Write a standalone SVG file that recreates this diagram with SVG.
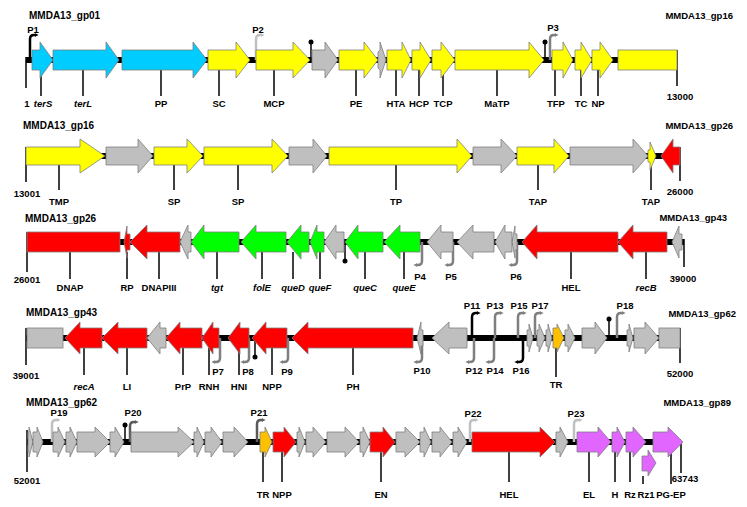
<svg xmlns="http://www.w3.org/2000/svg" width="747" height="507" viewBox="0 0 747 507">
<defs>
<style>
.bb{stroke:#000;stroke-width:6;fill:none}
.gene{stroke:#7f7f7f;stroke-width:0.8}
.cy{fill:#00CCFF}.ye{fill:#FFFF00}.gr{fill:#BFBFBF}.rd{fill:#FF0000}.gn{fill:#00FF00}.vi{fill:#E066FF}.or{fill:#FFC000}
.tk{stroke:#000;stroke-width:1.5;fill:none}
.t{font-family:"Liberation Sans",Arial,sans-serif;font-weight:bold;font-size:9.5px;fill:#000;text-anchor:middle}
.h{font-size:10px;text-anchor:start}
.e{text-anchor:end}
.i{font-style:italic}
.pk{stroke:#000;stroke-width:2.5;fill:none;marker-end:url(#mk)}
.pl{stroke:#C0C0C0;stroke-width:2.5;fill:none;marker-end:url(#ml)}
.pd{stroke:#7F7F7F;stroke-width:2.5;fill:none;marker-end:url(#md)}
.pe{stroke:#5A5A5A;stroke-width:2.5;fill:none;marker-end:url(#me)}
.term{stroke:#000;stroke-width:1.5}
</style>
<marker id="mk" viewBox="0 0 6 6" refX="2" refY="3" markerWidth="4" markerHeight="4" orient="auto" markerUnits="userSpaceOnUse"><path d="M0,0L6,3L0,6z" fill="#000"/></marker>
<marker id="ml" viewBox="0 0 6 6" refX="2" refY="3" markerWidth="4" markerHeight="4" orient="auto" markerUnits="userSpaceOnUse"><path d="M0,0L6,3L0,6z" fill="#C0C0C0"/></marker>
<marker id="md" viewBox="0 0 6 6" refX="2" refY="3" markerWidth="4" markerHeight="4" orient="auto" markerUnits="userSpaceOnUse"><path d="M0,0L6,3L0,6z" fill="#7F7F7F"/></marker>
<marker id="me" viewBox="0 0 6 6" refX="2" refY="3" markerWidth="4" markerHeight="4" orient="auto" markerUnits="userSpaceOnUse"><path d="M0,0L6,3L0,6z" fill="#5A5A5A"/></marker>
</defs>
<rect width="747" height="507" fill="#fff"/>

<g id="backbone">
<line class="bb" x1="26" y1="60" x2="677" y2="60"/>
<line class="bb" x1="26" y1="156" x2="680" y2="156"/>
<line class="bb" x1="27" y1="242" x2="684" y2="242"/>
<line class="bb" x1="26" y1="338" x2="680" y2="338"/>
<line class="bb" x1="27" y1="442" x2="681" y2="442"/>
</g>

<g id="promoters">
<path id="P1" class="pk" d="M30 60V39Q30 35 34 35H36"/>
<path id="P2" class="pl" d="M256 60V39Q256 35 260 35H262"/>
<path id="P3" class="pd" d="M550 60V39Q550 35 554 35H556"/>
<path id="P4" class="pd" d="M422 242V261Q422 265 418 265H416"/>
<path id="P5" class="pd" d="M453 242V261Q453 265 449 265H447"/>
<path id="P6" class="pd" d="M517 242V261Q517 265 513 265H511"/>
<path id="P7" class="pd" d="M220 338V358Q220 362 216 362H214"/>
<path id="P8" class="pd" d="M249 338V358Q249 362 245 362H243"/>
<path id="P9" class="pd" d="M288 338V358Q288 362 284 362H282"/>
<path id="P10" class="pd" d="M422 338V358Q422 362 418 362H416"/>
<path id="P11" class="pk" d="M472 338V317Q472 313 476 313H478"/>
<path id="P12" class="pd" d="M474 338V358Q474 362 470 362H468"/>
<path id="P13" class="pd" d="M495 338V317Q495 313 499 313H501"/>
<path id="P14" class="pd" d="M494 338V358Q494 362 490 362H488"/>
<path id="P15" class="pd" d="M518 338V317Q518 313 522 313H524"/>
<path id="P16" class="pk" d="M523 338V358Q523 362 519 362H517"/>
<path id="P17" class="pd" d="M535 338V317Q535 313 539 313H541"/>
<path id="P18" class="pd" d="M617 338V317Q617 313 621 313H623"/>
<path id="P19" class="pl" d="M52 442V424Q52 420 56 420H58"/>
<path id="P20" class="pe" d="M130 442V426Q130 422 134 422H136"/>
<path id="P21" class="pe" d="M257 442V424Q257 420 261 420H263"/>
<path id="P22" class="pl" d="M470 442V424Q470 420 474 420H476"/>
<path id="P23" class="pl" d="M574 442V424Q574 420 578 420H580"/>
</g>

<g id="terminators">
<line class="term" x1="311" y1="60" x2="311" y2="43"/><circle cx="311" cy="42" r="2.5"/>
<line class="term" x1="545" y1="60" x2="545" y2="43"/><circle cx="545" cy="42" r="2.5"/>
<line class="term" x1="345" y1="242" x2="345" y2="260"/><circle cx="345" cy="261" r="2.5"/>
<line class="term" x1="255" y1="338" x2="255" y2="356"/><circle cx="255" cy="357" r="2.5"/>
<line class="term" x1="609" y1="338" x2="609" y2="320"/><circle cx="609" cy="319" r="2.5"/>
<line class="term" x1="125" y1="442" x2="125" y2="426"/><circle cx="125" cy="425" r="2.5"/>
</g>

<g id="connectors">
<!-- row 1 -->
<line class="tk" x1="26" y1="57" x2="26" y2="88"/>
<line class="tk" x1="677" y1="50" x2="677" y2="86"/>
<line class="tk" x1="41" y1="70" x2="41" y2="96"/>
<line class="tk" x1="83" y1="70" x2="83" y2="96"/>
<line class="tk" x1="161" y1="70" x2="161" y2="96"/>
<line class="tk" x1="219" y1="70" x2="219" y2="96"/>
<line class="tk" x1="274" y1="70" x2="274" y2="96"/>
<line class="tk" x1="356" y1="70" x2="356" y2="96"/>
<line class="tk" x1="396" y1="70" x2="396" y2="96"/>
<line class="tk" x1="419" y1="70" x2="419" y2="96"/>
<line class="tk" x1="443" y1="70" x2="443" y2="96"/>
<line class="tk" x1="497" y1="70" x2="497" y2="96"/>
<line class="tk" x1="555" y1="70" x2="555" y2="96"/>
<line class="tk" x1="581" y1="70" x2="581" y2="96"/>
<line class="tk" x1="598" y1="70" x2="598" y2="96"/>
<!-- row 2 -->
<line class="tk" x1="26" y1="147" x2="26" y2="182"/>
<line class="tk" x1="680" y1="147" x2="680" y2="181"/>
<line class="tk" x1="59" y1="165" x2="59" y2="190"/>
<line class="tk" x1="174" y1="165" x2="174" y2="190"/>
<line class="tk" x1="238" y1="165" x2="238" y2="190"/>
<line class="tk" x1="396" y1="165" x2="396" y2="190"/>
<line class="tk" x1="538" y1="165" x2="538" y2="190"/>
<line class="tk" x1="651" y1="165" x2="651" y2="190"/>
<!-- row 3 -->
<line class="tk" x1="27" y1="232" x2="27" y2="272"/>
<line class="tk" x1="684" y1="239" x2="684" y2="267"/>
<line class="tk" x1="70" y1="252" x2="70" y2="279"/>
<line class="tk" x1="127" y1="252" x2="127" y2="279"/>
<line class="tk" x1="159" y1="252" x2="159" y2="279"/>
<line class="tk" x1="217" y1="252" x2="217" y2="279"/>
<line class="tk" x1="262" y1="252" x2="262" y2="279"/>
<line class="tk" x1="293" y1="252" x2="293" y2="279"/>
<line class="tk" x1="320" y1="252" x2="320" y2="279"/>
<line class="tk" x1="365" y1="252" x2="365" y2="279"/>
<line class="tk" x1="404" y1="252" x2="404" y2="279"/>
<line class="tk" x1="571" y1="252" x2="571" y2="279"/>
<line class="tk" x1="646" y1="252" x2="646" y2="279"/>
<!-- row 4 -->
<line class="tk" x1="26" y1="328" x2="26" y2="365"/>
<line class="tk" x1="680" y1="328" x2="680" y2="363"/>
<line class="tk" x1="84" y1="348" x2="84" y2="375"/>
<line class="tk" x1="127" y1="348" x2="127" y2="375"/>
<line class="tk" x1="183" y1="348" x2="183" y2="375"/>
<line class="tk" x1="209" y1="348" x2="209" y2="375"/>
<line class="tk" x1="239" y1="348" x2="239" y2="375"/>
<line class="tk" x1="272" y1="348" x2="272" y2="375"/>
<line class="tk" x1="353" y1="348" x2="353" y2="375"/>
<line class="tk" x1="556" y1="348" x2="556" y2="377"/>
<!-- row 5 -->
<line class="tk" x1="27" y1="430" x2="27" y2="472"/>
<line class="tk" x1="681" y1="442" x2="681" y2="473"/>
<line class="tk" x1="263" y1="452" x2="263" y2="482"/>
<line class="tk" x1="282" y1="452" x2="282" y2="482"/>
<line class="tk" x1="381" y1="452" x2="381" y2="482"/>
<line class="tk" x1="509" y1="452" x2="509" y2="482"/>
<line class="tk" x1="589" y1="452" x2="589" y2="482"/>
<line class="tk" x1="615" y1="452" x2="615" y2="482"/>
<line class="tk" x1="630" y1="452" x2="630" y2="482"/>
<line class="tk" x1="643" y1="476" x2="643" y2="484"/>
<line class="tk" x1="671" y1="452" x2="671" y2="484"/>
</g>

<!-- Row 1 genes -->
<g id="row1" class="gene">
<g id="terS"><polygon class="cy" points="32,50 40,50 40,42 53,60 40,78 40,70 32,70"/></g>
<g id="terL"><polygon class="cy" points="53,50 106,50 106,42 119,60 106,78 106,70 53,70"/></g>
<g id="PP"><polygon class="cy" points="122,50 193,50 193,42 207,60 193,78 193,70 122,70"/></g>
<g id="SC"><polygon class="ye" points="208,50 236,50 236,42 250,60 236,78 236,70 208,70"/></g>
<g id="MCP"><polygon class="ye" points="256,50 293,50 293,42 310,60 293,78 293,70 256,70"/></g>
<g id="r1g1"><polygon class="gr" points="312,50 325,50 325,42 338,60 325,78 325,70 312,70"/></g>
<g id="PE"><polygon class="ye" points="339,50 364,50 364,42 378,60 364,78 364,70 339,70"/></g>
<g id="r1g2"><polygon class="gr" points="378,52 380,50 380,42 386,60 380,78 380,70 378,68"/></g>
<g id="HTA"><polygon class="ye" points="387,50 402,50 402,42 411,60 402,78 402,70 387,70"/></g>
<g id="HCP"><polygon class="ye" points="412,50 420,50 420,42 431,60 420,78 420,70 412,70"/></g>
<g id="TCP"><polygon class="ye" points="432,50 441,50 441,42 455,60 441,78 441,70 432,70"/></g>
<g id="MaTP"><polygon class="ye" points="455,50 529,50 529,42 544,60 529,78 529,70 455,70"/></g>
<g id="TFP"><polygon class="ye" points="552,50 563,50 563,42 573,60 563,78 563,70 552,70"/></g>
<g id="TC"><polygon class="ye" points="575,50 581,50 581,42 592,60 581,78 581,70 575,70"/></g>
<g id="NP"><polygon class="ye" points="592,50 600,50 600,42 613,60 600,78 600,70 592,70"/></g>
<g id="gp16a"><rect class="ye" x="618" y="50" width="59" height="20"/></g>
</g>

<!-- Row 2 genes -->
<g id="row2" class="gene">
<g id="TMP"><polygon class="ye" points="26,147 80,147 80,139 105,156 80,173 80,165 26,165"/></g>
<g id="r2g1"><polygon class="gr" points="106,147 138,147 138,139 153,156 138,173 138,165 106,165"/></g>
<g id="SP1"><polygon class="ye" points="154,147 187,147 187,139 203,156 187,173 187,165 154,165"/></g>
<g id="SP2"><polygon class="ye" points="204,147 272,147 272,139 288,156 272,173 272,165 204,165"/></g>
<g id="r2g2"><polygon class="gr" points="289,147 313,147 313,139 327,156 313,173 313,165 289,165"/></g>
<g id="TP"><polygon class="ye" points="329,147 457,147 457,139 472,156 457,173 457,165 329,165"/></g>
<g id="r2g3"><polygon class="gr" points="473,147 501,147 501,139 517,156 501,173 501,165 473,165"/></g>
<g id="TAP1"><polygon class="ye" points="517,147 554,147 554,139 569,156 554,173 554,165 517,165"/></g>
<g id="r2g4"><polygon class="gr" points="570,147 633,147 633,139 648,156 633,173 633,165 570,165"/></g>
<g id="TAP2"><polygon class="ye" points="648,150 650,150 650,142 656,156 650,170 650,162 648,162"/></g>
<g id="gp26"><polygon class="rd" points="680,147 673,147 673,139 661,156 673,173 673,165 680,165"/></g>
</g>

<!-- Row 3 genes -->
<g id="row3" class="gene">
<g id="DNAP"><rect class="rd" x="27" y="232" width="93" height="20"/></g>
<g id="RP"><polygon class="rd" points="130,234 127,234 127,226 124,242 127,258 127,250 130,250"/></g>
<g id="DNAPIII"><polygon class="rd" points="180,232 147,232 147,225 130,242 147,259 147,252 180,252"/></g>
<g id="r3g1"><polygon class="gr" points="191,232 188,232 188,225 180,242 188,259 188,252 191,252"/></g>
<g id="tgt"><polygon class="gn" points="239,232 204,232 204,225 191,242 204,259 204,252 239,252"/></g>
<g id="folE"><polygon class="gn" points="286,232 256,232 256,225 241,242 256,259 256,252 286,252"/></g>
<g id="queD"><polygon class="gn" points="309,232 301,232 301,225 287,242 301,259 301,252 309,252"/></g>
<g id="queF"><polygon class="gn" points="324,232 317,232 317,225 310,242 317,259 317,252 324,252"/></g>
<g id="r3g2"><polygon class="gr" points="344,232 336,232 336,225 324,242 336,259 336,252 344,252"/></g>
<g id="queC"><polygon class="gn" points="383,232 358,232 358,225 345,242 358,259 358,252 383,252"/></g>
<g id="queE"><polygon class="gn" points="420,232 400,232 400,225 384,242 400,259 400,252 420,252"/></g>
<g id="r3g3"><polygon class="gr" points="453,232 441,232 441,225 427,242 441,259 441,252 453,252"/></g>
<g id="r3g4"><polygon class="gr" points="494,232 473,232 473,225 457,242 473,259 473,252 494,252"/></g>
<g id="r3g5"><polygon class="gr" points="512,232 505,232 505,225 495,242 505,259 505,252 512,252"/></g>
<g id="r3g6"><polygon class="gr" points="517,234 515,234 515,226 512,242 515,258 515,250 517,250"/></g>
<g id="HEL1"><polygon class="rd" points="618,232 537,232 537,225 522,242 537,259 537,252 618,252"/></g>
<g id="recB"><polygon class="rd" points="667,232 633,232 633,225 618,242 633,259 633,252 667,252"/></g>
<g id="gp43a"><polygon class="gr" points="682,234 679,234 679,226 672,242 679,258 679,250 682,250"/></g>
</g>

<!-- Row 4 genes -->
<g id="row4" class="gene">
<g id="gp43b"><rect class="gr" x="27" y="328" width="36" height="20"/></g>
<g id="recA"><polygon class="rd" points="102,328 80,328 80,322 65,338 80,354 80,348 102,348"/></g>
<g id="LI"><polygon class="rd" points="147,328 118,328 118,322 102,338 118,354 118,348 147,348"/></g>
<g id="r4g1"><polygon class="gr" points="166,328 160,328 160,322 147,338 160,354 160,348 166,348"/></g>
<g id="PrP"><polygon class="rd" points="202,328 180,328 180,322 166,338 180,354 180,348 202,348"/></g>
<g id="RNH"><polygon class="rd" points="219,328 213,328 213,322 202,338 213,354 213,348 219,348"/></g>
<g id="HNI"><polygon class="rd" points="249,328 240,328 240,322 228,338 240,354 240,348 249,348"/></g>
<g id="NPP1"><polygon class="rd" points="287,328 266,328 266,322 252,338 266,354 266,348 287,348"/></g>
<g id="PH"><polygon class="rd" points="413,328 308,328 308,322 292,338 308,354 308,348 413,348"/></g>
<g id="r4g2"><polygon class="gr" points="423,330 421,330 421,322 417,338 421,354 421,346 423,346"/></g>
<g id="r4g3"><polygon class="gr" points="467,328 449,328 449,322 432,338 449,354 449,348 467,348"/></g>
<g id="r4g4"><polygon class="gr" points="527,330 529,330 529,324 533,338 529,352 529,346 527,346"/></g>
<g id="r4g5"><polygon class="gr" points="537,330 539,330 539,324 545,338 539,352 539,346 537,346"/></g>
<g id="r4g6"><polygon class="gr" points="546,330 548,330 548,324 552,338 548,352 548,346 546,346"/></g>
<g id="TR1"><polygon class="or" points="553,328 557,328 557,324 564,338 557,352 557,348 553,348"/></g>
<g id="r4g7"><polygon class="gr" points="565,330 568,330 568,324 575,338 568,352 568,346 565,346"/></g>
<g id="r4g8"><polygon class="gr" points="582,328 595,328 595,322 607,338 595,354 595,348 582,348"/></g>
<g id="r4g9"><polygon class="gr" points="627,330 629,330 629,324 633,338 629,352 629,346 627,346"/></g>
<g id="r4g10"><polygon class="gr" points="634,328 645,328 645,322 659,338 645,354 645,348 634,348"/></g>
<g id="gp62a"><rect class="gr" x="659" y="328" width="21" height="20"/></g>
</g>

<!-- Row 5 genes -->
<g id="row5" class="gene">
<g id="gp62b"><polygon class="gr" points="28,432 29,432 29,427 33,442 29,457 29,452 28,452"/></g>
<g id="r5g1"><polygon class="gr" points="33,432 37,432 37,427 43,442 37,457 37,452 33,452"/></g>
<g id="r5g2"><polygon class="gr" points="53,432 58,432 58,427 65,442 58,457 58,452 53,452"/></g>
<g id="r5g3"><polygon class="gr" points="66,432 70,432 70,427 77,442 70,457 70,452 66,452"/></g>
<g id="r5g4"><polygon class="gr" points="77,432 95,432 95,427 110,442 95,457 95,452 77,452"/></g>
<g id="r5g5"><polygon class="gr" points="110,432 115,432 115,427 124,442 115,457 115,452 110,452"/></g>
<g id="r5g6"><polygon class="gr" points="131,432 178,432 178,427 194,442 178,457 178,452 131,452"/></g>
<g id="r5g7"><polygon class="gr" points="194,432 197,432 197,427 204,442 197,457 197,452 194,452"/></g>
<g id="r5g8"><polygon class="gr" points="205,432 211,432 211,427 222,442 211,457 211,452 205,452"/></g>
<g id="r5g9"><polygon class="gr" points="223,432 234,432 234,427 248,442 234,457 234,452 223,452"/></g>
<g id="TR2"><polygon class="or" points="260,432 265,432 265,427 272,442 265,457 265,452 260,452"/></g>
<g id="NPP2"><polygon class="rd" points="273,432 284,432 284,427 296,442 284,457 284,452 273,452"/></g>
<g id="r5g10"><polygon class="gr" points="297,432 299,432 299,427 305,442 299,457 299,452 297,452"/></g>
<g id="r5g11"><polygon class="gr" points="306,432 313,432 313,427 326,442 313,457 313,452 306,452"/></g>
<g id="r5g12"><polygon class="gr" points="327,432 345,432 345,427 359,442 345,457 345,452 327,452"/></g>
<g id="r5g13"><polygon class="gr" points="360,432 363,432 363,427 370,442 363,457 363,452 360,452"/></g>
<g id="EN"><polygon class="rd" points="370,432 383,432 383,427 395,442 383,457 383,452 370,452"/></g>
<g id="r5g14"><polygon class="gr" points="396,432 405,432 405,427 420,442 405,457 405,452 396,452"/></g>
<g id="r5g15"><polygon class="gr" points="420,432 424,432 424,427 431,442 424,457 424,452 420,452"/></g>
<g id="r5g16"><polygon class="gr" points="432,432 440,432 440,427 452,442 440,457 440,452 432,452"/></g>
<g id="r5g17"><polygon class="gr" points="453,432 458,432 458,427 467,442 458,457 458,452 453,452"/></g>
<g id="HEL2"><polygon class="rd" points="472,432 540,432 540,427 555,442 540,457 540,452 472,452"/></g>
<g id="r5g18"><polygon class="gr" points="556,432 560,432 560,427 568,442 560,457 560,452 556,452"/></g>
<g id="EL"><polygon class="vi" points="577,432 598,432 598,427 611,442 598,457 598,452 577,452"/></g>
<g id="H"><polygon class="vi" points="612,432 617,432 617,427 625,442 617,457 617,452 612,452"/></g>
<g id="Rz"><polygon class="vi" points="626,432 633,432 633,427 646,442 633,457 633,452 626,452"/></g>
<g id="Rz1"><polygon class="vi" points="642,456 648,456 648,450 656,463 648,476 648,471 642,471"/></g>
<g id="PG-EP"><polygon class="vi" points="653,432 668,432 668,427 683,442 668,457 668,452 653,452"/></g>
</g>

<g id="labels" class="t">
<!-- headings -->
<text class="t h" x="29" y="19">MMDA13_gp01</text>
<text class="t e" x="733" y="19">MMDA13_gp16</text>
<text class="t h" x="23" y="129">MMDA13_gp16</text>
<text class="t e" x="733" y="129">MMDA13_gp26</text>
<text class="t h" x="25" y="222">MMDA13_gp26</text>
<text class="t e" x="727" y="221">MMDA13_gp43</text>
<text class="t h" x="26" y="316">MMDA13_gp43</text>
<text class="t e" x="736" y="317">MMDA13_gp62</text>
<text class="t h" x="26" y="406">MMDA13_gp62</text>
<text class="t e" x="731" y="406">MMDA13_gp89</text>
<!-- row 1 -->
<text class="t" x="33" y="33">P1</text>
<text class="t" x="258" y="33">P2</text>
<text class="t" x="553" y="31">P3</text>
<text class="t" x="27" y="107">1</text>
<text class="t i" x="43" y="107">terS</text>
<text class="t i" x="83" y="107">terL</text>
<text class="t" x="161" y="107">PP</text>
<text class="t" x="219" y="107">SC</text>
<text class="t" x="274" y="107">MCP</text>
<text class="t" x="356" y="107">PE</text>
<text class="t" x="396" y="107">HTA</text>
<text class="t" x="419" y="107">HCP</text>
<text class="t" x="443" y="107">TCP</text>
<text class="t" x="497" y="107">MaTP</text>
<text class="t" x="556" y="107">TFP</text>
<text class="t" x="581" y="107">TC</text>
<text class="t" x="598" y="107">NP</text>
<text class="t" x="680" y="100">13000</text>
<!-- row 2 -->
<text class="t" x="27" y="197">13001</text>
<text class="t" x="59" y="205">TMP</text>
<text class="t" x="174" y="205">SP</text>
<text class="t" x="238" y="205">SP</text>
<text class="t" x="396" y="205">TP</text>
<text class="t" x="538" y="205">TAP</text>
<text class="t" x="651" y="205">TAP</text>
<text class="t" x="680" y="195">26000</text>
<!-- row 3 -->
<text class="t" x="27" y="283">26001</text>
<text class="t" x="70" y="291">DNAP</text>
<text class="t" x="127" y="291">RP</text>
<text class="t" x="159" y="291">DNAPIII</text>
<text class="t i" x="217" y="291">tgt</text>
<text class="t i" x="262" y="291">folE</text>
<text class="t i" x="293" y="291">queD</text>
<text class="t i" x="320" y="291">queF</text>
<text class="t i" x="365" y="291">queC</text>
<text class="t i" x="404" y="291">queE</text>
<text class="t" x="420" y="280">P4</text>
<text class="t" x="451" y="280">P5</text>
<text class="t" x="516" y="280">P6</text>
<text class="t" x="571" y="291">HEL</text>
<text class="t i" x="646" y="291">recB</text>
<text class="t" x="683" y="282">39000</text>
<!-- row 4 -->
<text class="t" x="26" y="379">39001</text>
<text class="t i" x="84" y="390">recA</text>
<text class="t" x="127" y="390">LI</text>
<text class="t" x="183" y="390">PrP</text>
<text class="t" x="209" y="390">RNH</text>
<text class="t" x="239" y="390">HNI</text>
<text class="t" x="272" y="390">NPP</text>
<text class="t" x="353" y="390">PH</text>
<text class="t" x="218" y="375">P7</text>
<text class="t" x="248" y="375">P8</text>
<text class="t" x="287" y="375">P9</text>
<text class="t" x="422" y="374">P10</text>
<text class="t" x="474" y="374">P12</text>
<text class="t" x="495" y="374">P14</text>
<text class="t" x="521" y="374">P16</text>
<text class="t" x="472" y="309">P11</text>
<text class="t" x="495" y="309">P13</text>
<text class="t" x="519" y="309">P15</text>
<text class="t" x="540" y="309">P17</text>
<text class="t" x="625" y="309">P18</text>
<text class="t" x="556" y="388">TR</text>
<text class="t" x="680" y="377">52000</text>
<!-- row 5 -->
<text class="t" x="59" y="416">P19</text>
<text class="t" x="133" y="416">P20</text>
<text class="t" x="259" y="416">P21</text>
<text class="t" x="473" y="417">P22</text>
<text class="t" x="576" y="417">P23</text>
<text class="t" x="27" y="484">52001</text>
<text class="t" x="263" y="498">TR</text>
<text class="t" x="282" y="498">NPP</text>
<text class="t" x="381" y="498">EN</text>
<text class="t" x="509" y="498">HEL</text>
<text class="t" x="589" y="498">EL</text>
<text class="t" x="615" y="498">H</text>
<text class="t" x="630" y="498">Rz</text>
<text class="t" x="646" y="498">Rz1</text>
<text class="t" x="671" y="498">PG-EP</text>
<text class="t" x="685" y="482">63743</text>
</g>
</svg>
